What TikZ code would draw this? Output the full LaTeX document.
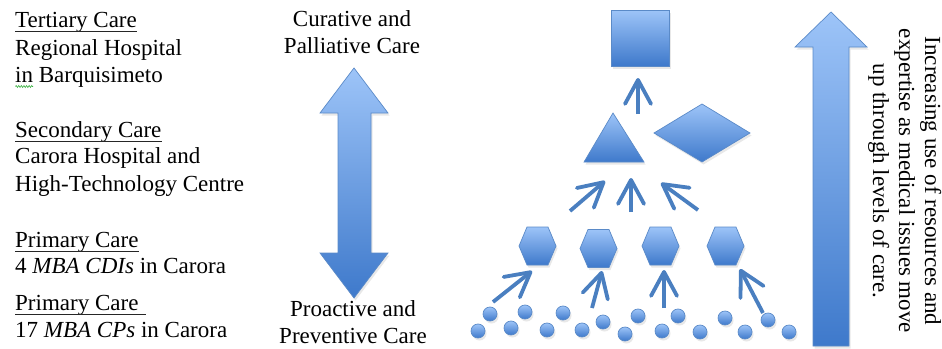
\documentclass[tikz,border=0pt]{standalone}
\usepackage{fontspec}
\setmainfont{Liberation Serif}
\usetikzlibrary{arrows.meta,shadows,decorations.pathmorphing}
\definecolor{gtop}{HTML}{9DC4F8}
\definecolor{gbot}{HTML}{3E79CB}
\definecolor{edgeblue}{HTML}{5A8AC8}
\definecolor{arrblue}{HTML}{4A7FC0}
\definecolor{squig}{HTML}{3CB043}
\tikzset{
  gshape/.style={top color=gtop, bottom color=gbot, draw=edgeblue, line width=0.7pt,
    drop shadow={opacity=0.18, shadow xshift=1.5pt, shadow yshift=-2.5pt}},
  dot/.style={circle, inner sep=0pt, minimum size=14pt, gshape},
  uparrow/.style={draw=arrblue, line width=3.8pt, -{Straight Barb[length=24pt,width=26pt,round]}},
  txt/.style={inner sep=0pt, font=\fontsize{23}{27}\selectfont},
  lefttxt/.style={txt, anchor=base west},
  midtxt/.style={txt, anchor=base},
  sidetxt/.style={txt, anchor=base, rotate=-90},
  ul/.style={draw=black!85, line width=1pt},
  hexa/.pic={\path[gshape] (-18.5,0) -- (-10.5,-19) -- (10.5,-19) -- (18.5,0) -- (10.5,19) -- (-10.5,19) -- cycle;}
}
\begin{document}
\begin{tikzpicture}[x=1pt,y=-1pt]
\useasboundingbox (0,0) rectangle (942,348);

% ---- left column ----
\node[lefttxt] (t1) at (15,27.7) {Tertiary Care};
\draw[ul] ([yshift=-4pt]t1.base west) -- ([yshift=-4pt]t1.base east);
\node[lefttxt] (t2) at (15,55) {Regional Hospital};
\node[lefttxt] (t3) at (15,82) {in Barquisimeto};
\draw[squig, line width=0.6pt, decorate, decoration={zigzag, amplitude=1pt, segment length=2.6pt}] (15.5,86.5) -- (33,86.5);

\node[lefttxt] (s1) at (15,137) {Secondary Care};
\draw[ul] ([yshift=-4pt]s1.base west) -- ([yshift=-4pt]s1.base east);
\node[lefttxt] (s2) at (15,163.5) {Carora Hospital and};
\node[lefttxt] (s3) at (15,191) {High-Technology Centre};

\node[lefttxt] (p1) at (15,247) {Primary Care};
\draw[ul] ([yshift=-4pt]p1.base west) -- ([yshift=-4pt]p1.base east);
\node[lefttxt] (p2) at (15,273.5) {4 \textit{MBA CDIs} in Carora};
\node[lefttxt] (q1) at (15,310) {Primary Care};
\draw[ul] ([yshift=-4pt]q1.base west) -- ([yshift=-4pt,xshift=7pt]q1.base east);
\node[lefttxt] (q2) at (15,337) {17 \textit{MBA CPs} in Carora};

% ---- middle ----
\node[midtxt] (m1) at (352,26) {Curative and};
\node[midtxt] (m2) at (352,53) {Palliative Care};
\node[midtxt] (m3) at (353,316) {Proactive and};
\node[midtxt] (m4) at (353,343) {Preventive Care};
\path[gshape] (354,68) -- (388,113) -- (371,113) -- (371,253) -- (388,253) -- (354,298)
  -- (320,253) -- (338,253) -- (338,113) -- (320,113) -- cycle;

% ---- pyramid ----
\node[gshape, rectangle, inner sep=0pt, minimum width=58pt, minimum height=56pt] (sq) at (640,38) {};
\path[gshape] (584,162) -- (613,113) -- (644,162) -- cycle;
\coordinate (tri) at (614,145);
\path[gshape] (654,133) -- (702,104) -- (750,133) -- (702,162) -- cycle;
\coordinate (dia) at (702,133);

\pic at (537.5,246) {hexa}; \coordinate (h1) at (537.5,246);
\pic at (598.5,248.5) {hexa}; \coordinate (h2) at (598.5,248.5);
\pic at (660.5,246) {hexa}; \coordinate (h3) at (660.5,246);
\pic at (725.5,246) {hexa}; \coordinate (h4) at (725.5,246);

\foreach \i/\x/\y in {1/478/331,2/490/314,3/511/328,4/525/312,5/547/330,6/563/313,
  7/582/330,8/603/322,9/625/334,10/638/316,11/662/331,12/678/316,13/700/332,
  14/725/318,15/745/332,16/768/320,17/789/332}
  \node[dot] (c\i) at (\x,\y) {};

% arrows
\coordinate (a0s) at (638,114); \coordinate (a0e) at (638,78);
\draw[uparrow] (a0s) -- (a0e);
\coordinate (b1s) at (570,211); \coordinate (b1e) at (605,181);
\coordinate (b2s) at (631,212); \coordinate (b2e) at (631,178);
\coordinate (b3s) at (698,210); \coordinate (b3e) at (661,183);
\draw[uparrow] (b1s) -- (b1e);
\draw[uparrow] (b2s) -- (b2e);
\draw[uparrow] (b3s) -- (b3e);
\coordinate (a1s) at (493,302); \coordinate (a1e) at (532,271);
\coordinate (a2s) at (592,308); \coordinate (a2e) at (602,271);
\coordinate (a3s) at (664,308); \coordinate (a3e) at (664,270);
\coordinate (a4s) at (763,313); \coordinate (a4e) at (740,269);
\draw[uparrow] (a1s) -- (a1e);
\draw[uparrow] (a2s) -- (a2e);
\draw[uparrow] (a3s) -- (a3e);
\draw[uparrow] (a4s) -- (a4e);

% ---- right arrow and text ----
\path[gshape] (831,12) -- (867,47) -- (849,47) -- (849,346) -- (813,346) -- (813,47) -- (795,47) -- cycle;
\node[sidetxt] (r1) at (925,181) {Increasing use of resources and};
\node[sidetxt] (r2) at (899,181) {expertise as medical issues move};
\node[sidetxt] (r3) at (873,181) {up through levels of care.};
\end{tikzpicture}
\end{document}
